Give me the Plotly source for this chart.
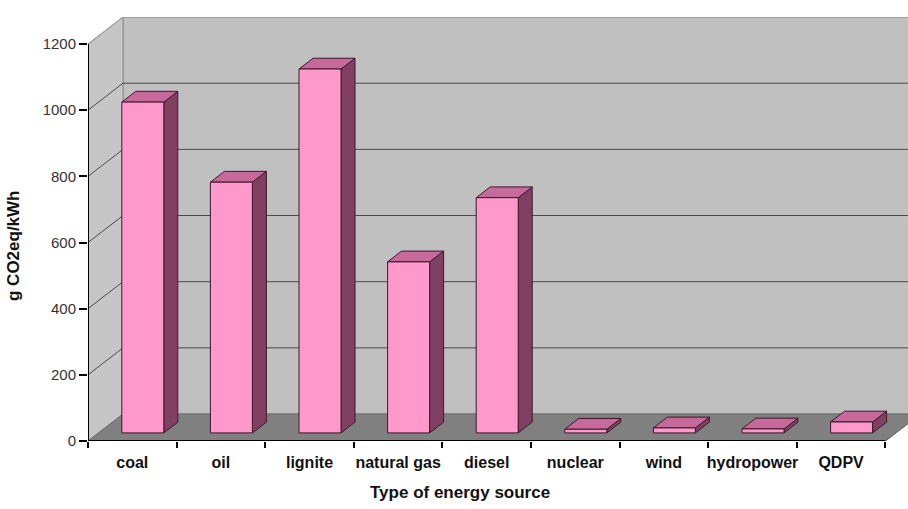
import plotly.graph_objects as go

categories = ["coal", "oil", "lignite", "natural gas", "diesel", "nuclear", "wind", "hydropower", "QDPV"]
values = [1000, 758, 1100, 517, 711, 11, 15, 12, 33]
ytick_vals = [0, 200, 400, 600, 800, 1000, 1200]

# 3-D projection parameters (in data units)
DX = 0.395   # depth offset along x (category units)
DY = 81.6    # depth offset along y (value units)
BAR_W = 0.474
BAR_D0, BAR_D1 = 0.3, 0.7   # bar occupies this fraction of depth
X0, X1 = -0.5, len(categories) - 0.5
YMAX = 1200

FRONT = "#ff99cc"
TOP = "#c8699c"
SIDE = "#804062"
EDGE = "#3a1a2a"

fig = go.Figure()

def poly(xs, ys, fill, line_color=None, width=1):
    fig.add_trace(go.Scatter(
        x=xs + [xs[0]], y=ys + [ys[0]], mode="lines", fill="toself",
        fillcolor=fill, line=dict(color=line_color or fill, width=width),
        hoverinfo="skip", showlegend=False))

def seg(xs, ys, color, width=1):
    fig.add_trace(go.Scatter(x=xs, y=ys, mode="lines",
                             line=dict(color=color, width=width),
                             hoverinfo="skip", showlegend=False))

# back wall
poly([X0 + DX, X1 + DX + 1, X1 + DX + 1, X0 + DX], [DY, DY, YMAX + DY, YMAX + DY], "#c0c0c0", "#8c8c8c")
# side wall
poly([X0, X0 + DX, X0 + DX, X0], [0, DY, YMAX + DY, YMAX], "#c6c6c6", "#8c8c8c")
# gridlines
for v in ytick_vals[1:-1]:
    seg([X0, X0 + DX, X1 + DX + 1], [v, v + DY, v + DY], "#4a4a4a", 1)
seg([X0, X0 + DX, X1 + DX + 1], [YMAX, YMAX + DY, YMAX + DY], "#9a9a9a", 1)
# floor
poly([X0, X1, X1 + DX, X0 + DX], [0, 0, DY, DY], "#808080", "#6a6a6a")

# bars
for i, v in enumerate(values):
    xl = i - BAR_W / 2 + BAR_D0 * DX
    xr = i + BAR_W / 2 + BAR_D0 * DX
    yb = BAR_D0 * DY
    ddx = (BAR_D1 - BAR_D0) * DX
    ddy = (BAR_D1 - BAR_D0) * DY
    yt = yb + v
    # side face
    poly([xr, xr + ddx, xr + ddx, xr], [yb, yb + ddy, yt + ddy, yt], SIDE, EDGE)
    # top face
    poly([xl, xr, xr + ddx, xl + ddx], [yt, yt, yt + ddy, yt + ddy], TOP, EDGE)
    # front face
    poly([xl, xr, xr, xl], [yb, yb, yt, yt], FRONT, EDGE)

# axis lines
seg([X0, X0], [0, YMAX], "#000000", 2)
seg([X0, X1], [0, 0], "#000000", 2)
seg([X1, X1 + DX], [0, DY], "#6a6a6a", 1)

xmax = -0.5 + 820 / 88.6
ymax = 424 / 0.3308

fig.update_layout(
    width=908, height=509,
    margin=dict(l=88, r=0, t=17, b=68),
    plot_bgcolor="white", paper_bgcolor="white",
    font=dict(family="Liberation Sans, Arial, sans-serif", color="#000000"),
    xaxis=dict(
        range=[-0.5, xmax], showgrid=False, zeroline=False, showline=False,
        tickvals=list(range(len(categories))), ticktext=["<b>%s</b>" % c for c in categories],
        ticks="", tickfont=dict(size=16, color="#111111"), ticklabelstandoff=10,
        minor=dict(tick0=-0.5, dtick=1, ticks="outside", ticklen=6, tickwidth=2,
                   tickcolor="#000000", showgrid=False),
    ),
    yaxis=dict(
        range=[0, ymax], showgrid=False, zeroline=False, showline=False,
        tickvals=ytick_vals, ticks="outside", ticklen=8, tickwidth=2, tickcolor="#000000",
        tickfont=dict(size=15, color="#333333"),
    ),
    annotations=[
        dict(text="<b>Type of energy source</b>", xref="paper", yref="paper",
             x=(460 - 88) / 820, y=(441 - 492) / 424, xanchor="center", yanchor="middle",
             showarrow=False, font=dict(size=17, color="#111111")),
        dict(text="<b>g CO2eq/kWh</b>", xref="paper", yref="paper", textangle=-90,
             x=(13 - 88) / 820, y=(441 - 246) / 424, xanchor="center", yanchor="middle",
             showarrow=False, font=dict(size=17, color="#111111")),
    ],
)

fig.write_html("out.html")
